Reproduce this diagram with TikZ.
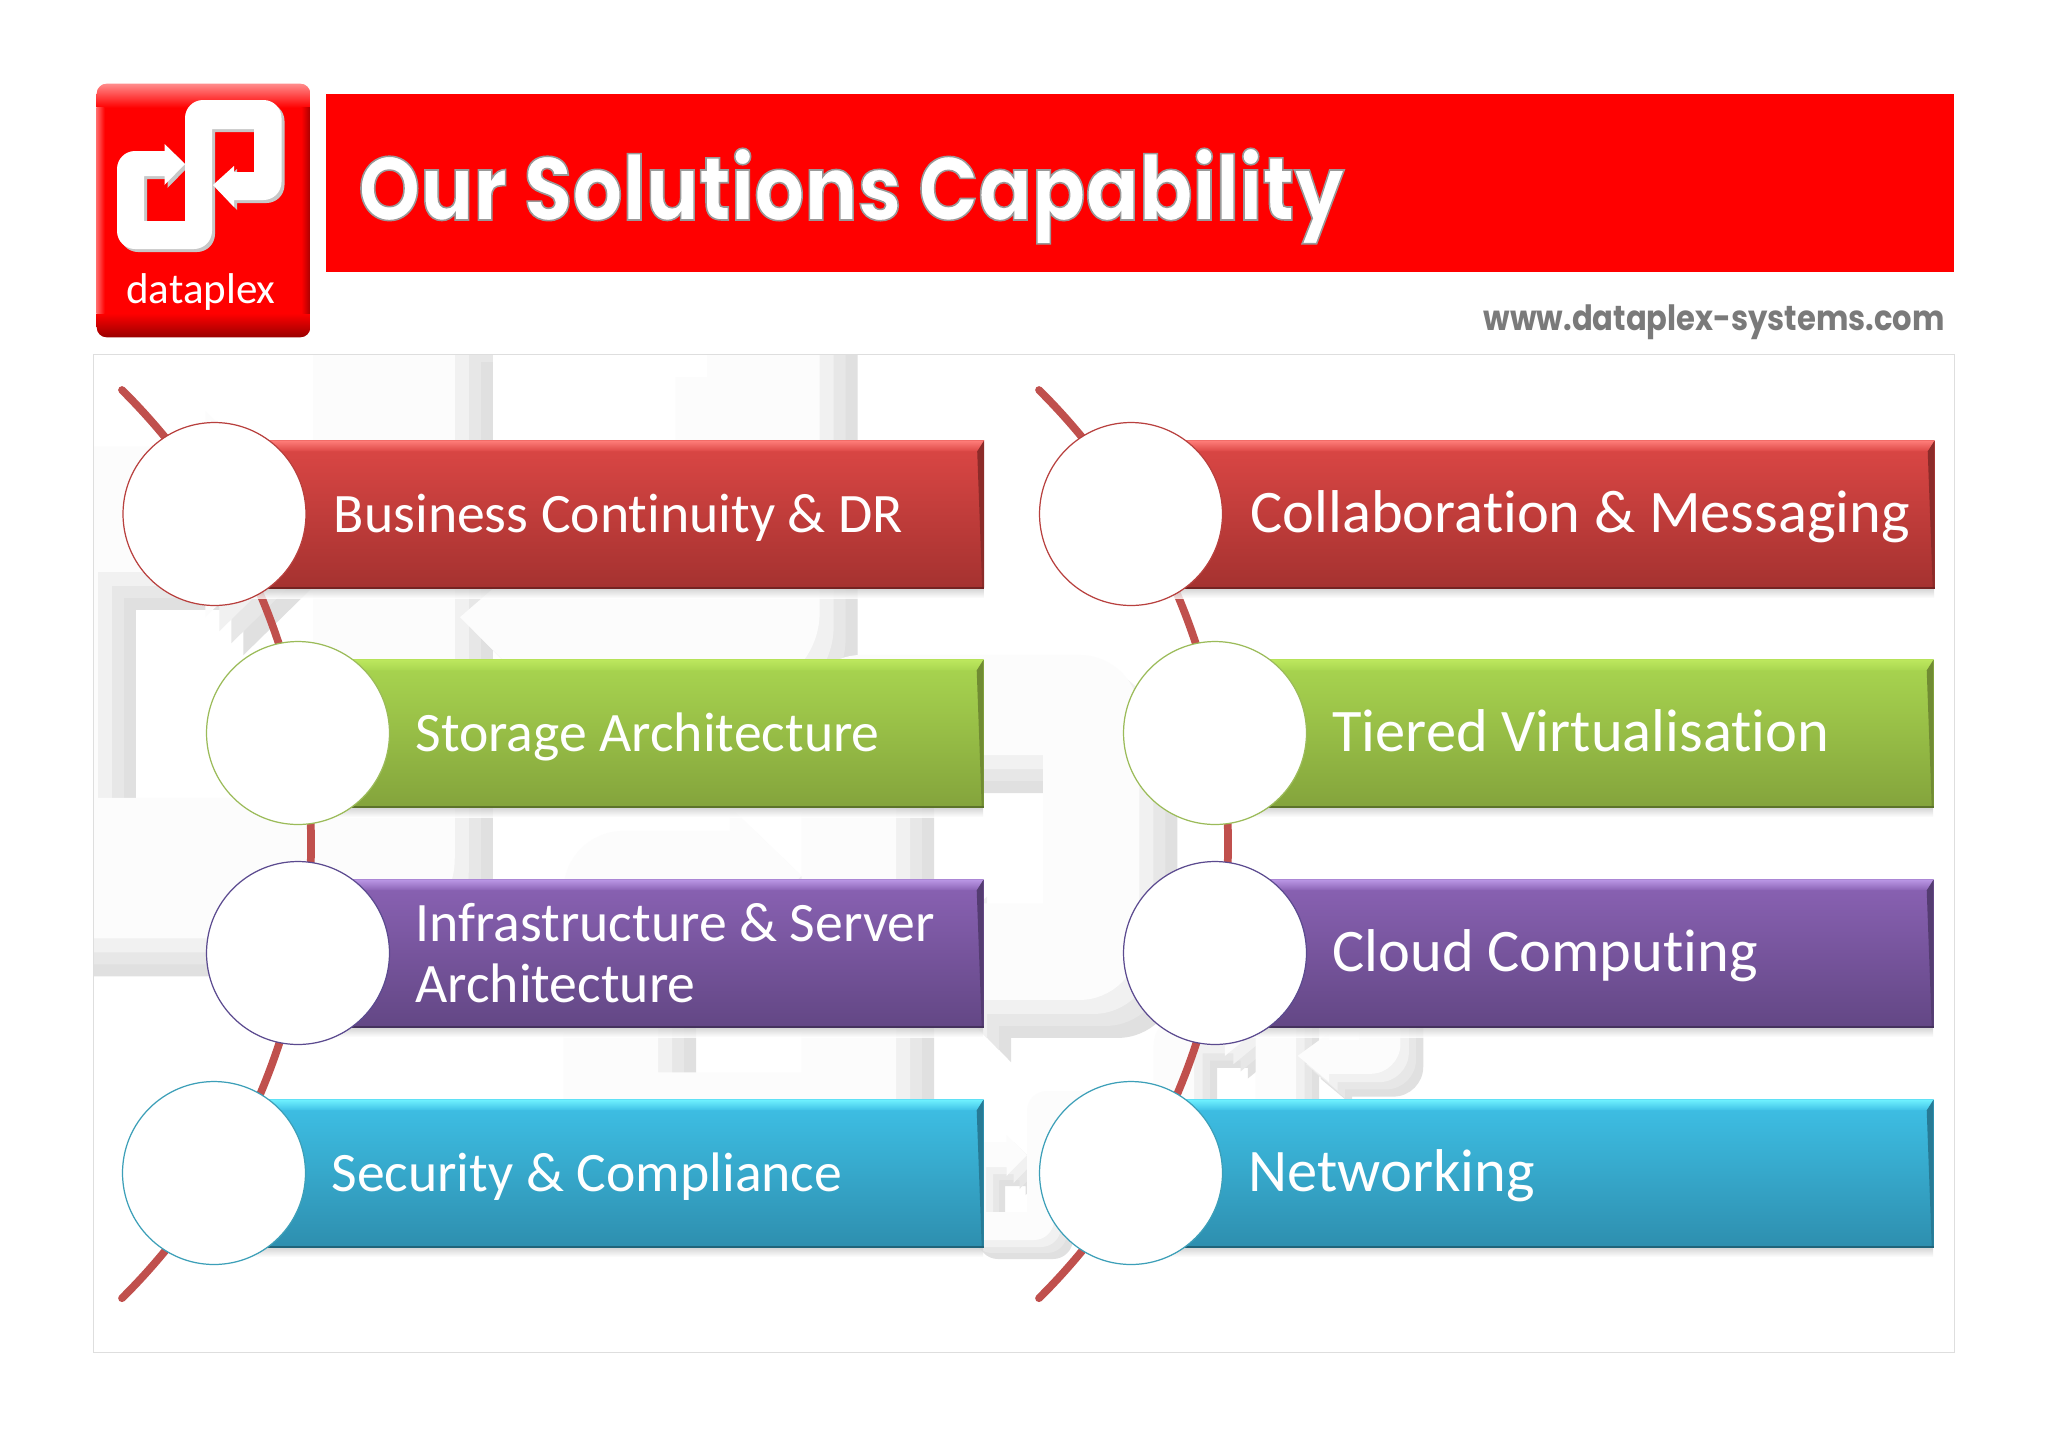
\documentclass[tikz,border=0pt]{standalone}
\usepackage{fontspec}
\usepackage{tikz}
\usetikzlibrary{positioning}
\setmainfont{Carlito}[Ligatures=NoCommon]
\newfontfamily\roundfont[FakeStretch=.88]{Poppins}
\definecolor{spinered}{HTML}{C0504D}
\definecolor{redtop}{HTML}{DC4745}\definecolor{redbot}{HTML}{A53230}\definecolor{redlit}{HTML}{FF7E7A}\definecolor{redline}{HTML}{B8403E}
\definecolor{greentop}{HTML}{A9D650}\definecolor{greenbot}{HTML}{84A43C}\definecolor{greenlit}{HTML}{BDE85E}\definecolor{greenline}{HTML}{9BBB59}
\definecolor{purptop}{HTML}{8A62B4}\definecolor{purpbot}{HTML}{634785}\definecolor{purplit}{HTML}{BB98E6}\definecolor{purpline}{HTML}{5B4A8F}
\definecolor{cyantop}{HTML}{3EC0E6}\definecolor{cyanbot}{HTML}{2E8FAF}\definecolor{cyanlit}{HTML}{70F2FF}\definecolor{cyanline}{HTML}{3C9FB8}
\newcommand{\logoShape}[1]{(188,167) -- (167.5,147) -- (167.5,154) [rounded corners=#1] -- (120,154) -- (120,252) -- (215,252) [sharp corners] -- (215,132) -- (257,132) -- (257,175) -- (237,175) -- (237,169) -- (216,188) -- (237,210) -- (237,203) [rounded corners=#1] -- (284.5,203) -- (284.5,103) -- (188,103) [sharp corners] -- (188,224) -- (147,224) -- (147,179) -- (167.5,179) -- (167.5,188) -- cycle}
\tikzset{
  spine/.style={line width=4.4pt,spinered,line cap=round},
  barbox/.style={rectangle,minimum height=2.93cm,inner sep=0pt,anchor=west},
  disc/.style={circle,fill=white,line width=.7pt,minimum size=3.66cm,inner sep=0pt},
  bartext/.style={text=white,align=left,inner sep=0pt,anchor=west,font=\fontsize{#1}{35}\selectfont},
  oneline/.style={text height=30pt,text depth=9pt},
  logobox/.style={rectangle,rounded corners=.2cm,minimum width=4.26cm,minimum height=5.06cm,inner sep=0pt,fill=red}
}
\begin{document}
\begin{tikzpicture}[x=.02cm,y=-.02cm]
  \useasboundingbox (0,0) rectangle (2048,1447);
  \fill[white] (0,0) rectangle (2048,1447);
  % faint copies of the mark behind the lists
  \begin{scope}
    \clip (93,354) rectangle (1955,1353);
    \foreach \ox/\oy/\sx/\sy/\rr/\fw in {-636/-288.6/5.25/5.02/1.6cm/1, 181.5/337.6/3.5/3.45/1.2cm/1, 996.5/853/1.5/1.2/.6cm/.6, 858/1007/1/1/.4cm/.5}
      \foreach \dd/\cc in {0/E0E0E0, 12/E7E7E7, 24/F1F1F1, 38/FCFCFC} {
        \definecolor{wm}{HTML}{\cc}
        \begin{scope}[shift={({\ox-\dd*\fw},{\oy-\dd*\fw})},xscale=\sx,yscale=\sy]
          \fill[wm] \logoShape{\rr};
        \end{scope}
      }
    \fill[white] (493,354) rectangle (707,377);
  \end{scope}
  \node[draw=black!13,line width=.6pt,rectangle,minimum width=37.24cm,minimum height=19.98cm,inner sep=0pt] (frame) at (1024,853.5) {};
  % header
  \node[rectangle,fill=red,minimum width=32.56cm,minimum height=3.56cm,inner sep=0pt,anchor=north west] (banner) at (326,94) {};
  \node[anchor=base west,inner sep=0pt,text=white,font=\roundfont\bfseries\fontsize{51}{60}\selectfont] (title) at (358,220)
    {\special{pdf:code 2 Tr 0.6 G 0.9 w}Our Solutions Capability\special{pdf:code 0 Tr 0 G 1 w}};
  \node[anchor=base east,inner sep=0pt,text=black!52,font=\roundfont\bfseries\fontsize{19.8}{24}\selectfont] (url) at (1945,330) {www.dataplex-systems.com};
  \node[logobox] (logo) at (203.5,210.5) {};
  \begin{scope}
    \clip[rounded corners=.2cm] (logo.north west) rectangle (logo.south east);
    \shade[top color=red!45!white,bottom color=red] (logo.north west) rectangle ([shift={(0,24)}]logo.north east);
    \shade[top color=red,bottom color=red!60!black] ([shift={(0,-24)}]logo.south west) rectangle (logo.south east);
    \shade[left color=red!60!white,right color=red] ([shift={(0,24)}]logo.north west) rectangle ([shift={(8,-24)}]logo.south west);
    \shade[left color=red,right color=red!65!black] ([shift={(-9,24)}]logo.north east) rectangle ([shift={(0,-24)}]logo.south east);
  \end{scope}
  \begin{scope}
    \fill[black!22] \logoShape{.36cm};
  \end{scope}
  \begin{scope}[shift={(-3,-3)}]
    \fill[white] \logoShape{.36cm};
  \end{scope}
  \node[anchor=base,inner sep=0pt,text=white,font=\fontsize{24.5}{30}\selectfont] (logoname) at (201,303) {dataplex};
  % curved spines
  \coordinate (spineL) at (122,390);
  \coordinate (spineR) at (1039,390);
  \draw[spine] (spineL) arc (-45.2:45.2:640);
  \draw[spine] (spineR) arc (-45.2:45.2:640);
  % bars first, then discs on their left ends
  \foreach \n/\cx/\cy/\bw/\col in {a/214.5/514/769/red, b/298/733/685/green, c/298/953/685/purp, d/214/1173/769/cyan,
                                   e/1131/514/803/red, f/1215/733/718/green, g/1215/953/718/purp, h/1131/1173/802/cyan} {
    \shade[top color=black!30,bottom color=white,opacity=.8] (\cx,{\cy+70}) rectangle ({\cx+\bw},{\cy+84});
    \node[barbox,minimum width=\bw*.02cm,top color=\col top,bottom color=\col bot] (bar\n) at (\cx,\cy) {};
    \shade[top color=\col lit,bottom color=\col top] (bar\n.north west) -- (bar\n.north east) -- ([shift={(-7,11)}]bar\n.north east) -- ([shift={(0,11)}]bar\n.north west) -- cycle;
    \fill[\col bot!85!black] (bar\n.north east) -- (bar\n.south east) -- ([shift={(-2,0)}]bar\n.south east) -- ([shift={(-7,11)}]bar\n.north east) -- cycle;
    \draw[\col bot!70!black,line width=1.1pt] (bar\n.south west) -- (bar\n.south east);
    \node[disc,draw=\col line] (disc\n) at (\cx,\cy) {};
  }
  % labels
  \node[bartext=31.7,oneline] [right=.54cm of disca.east] (labela) {Business Continuity \& DR};
  \node[bartext=31.7,oneline] [right=.5cm of discb.east] (labelb) {Storage Architecture};
  \node[bartext=31.7] [right=.5cm of discc.east] (labelc) {Infrastructure \& Server\\Architecture};
  \node[bartext=31.7,oneline] [right=.5cm of discd.east] (labeld) {Security \& Compliance};
  \node[bartext=34.4,oneline] [right=.54cm of disce.east] (labele) {Collaboration \& Messaging};
  \node[bartext=34.4,oneline] [right=.5cm of discf.east] (labelf) {Tiered Virtualisation};
  \node[bartext=34.4,oneline] [right=.5cm of discg.east] (labelg) {Cloud Computing};
  \node[bartext=34.4,oneline] [right=.5cm of disch.east] (labelh) {Networking};
\end{tikzpicture}
\end{document}
